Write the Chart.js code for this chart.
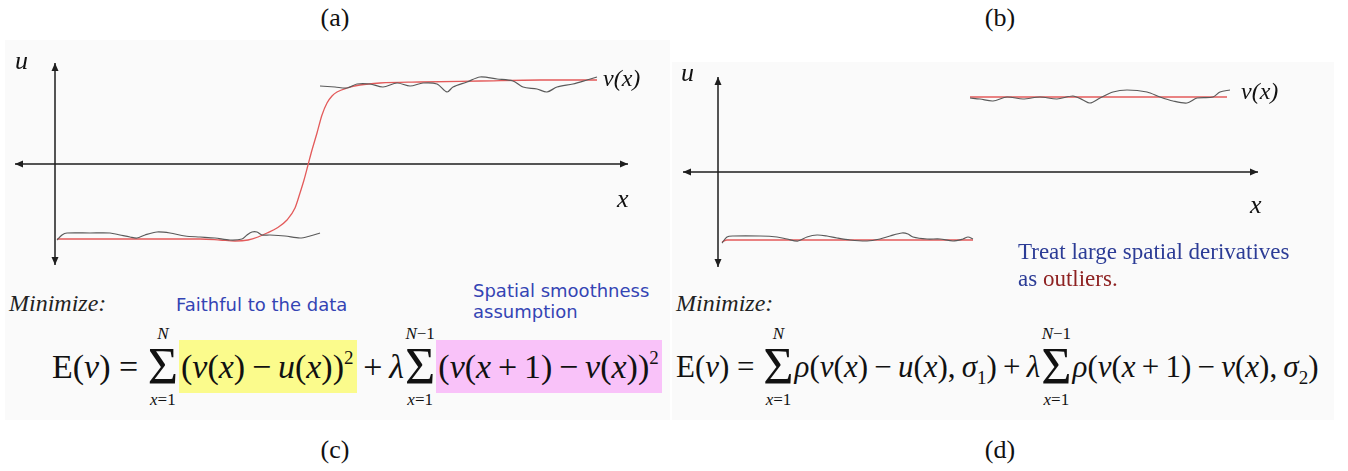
<!DOCTYPE html>
<html lang="en">

<head>
    <meta charset="UTF-8">
    <title>Robust smoothing</title>
    <script src="https://cdn.jsdelivr.net/npm/chart.js"></script>
    <style>
        body { margin: 0; width: 1348px; height: 471px; position: relative; background: #fff; overflow: hidden;
               font-family: "Liberation Serif", "Times New Roman", serif; color: #111; }
        .slide { position: absolute; background: #fafafa; }
        canvas { position: absolute; }
        .t { position: absolute; white-space: nowrap; line-height: 1; }
        .cap { font-size: 26px; transform: translateX(-50%); }
        .it { font-style: italic; }
        .note { font-family: "DejaVu Sans", sans-serif; color: #3444b4; font-size: 18px; }
        .eq { position: absolute; display: flex; align-items: center; white-space: nowrap; line-height: 1.1; }
        .eq i { font-style: italic; }
        .sum { display: inline-flex; flex-direction: column; align-items: center; line-height: 1; margin: 0 1px; }
        .sum .lim { font-size: 17px; }
        .sum .sig { font-size: 52px; line-height: 0.95; }
        .hl { padding: 8px 3px 8px 2px; }
        sup { font-size: 19px; vertical-align: 14px; line-height: 0; }
        sub { font-size: 19px; vertical-align: -7px; line-height: 0; }
    </style>
</head>

<body>
    <div class="slide" style="left:5px;top:40px;width:665px;height:380px"></div>
    <div class="slide" style="left:672px;top:62px;width:662px;height:358px"></div>

    <canvas id="stepChart" width="670" height="240" style="left:0;top:40px"></canvas>
    <canvas id="robustChart" width="678" height="240" style="left:670px;top:40px"></canvas>

    <div class="t cap" style="left:335px;top:5px">(a)</div>
    <div class="t cap" style="left:1000px;top:5px">(b)</div>
    <div class="t cap" style="left:335px;top:437px">(c)</div>
    <div class="t cap" style="left:1000px;top:437px">(d)</div>

    <div class="t it" style="left:15px;top:48px;font-size:26px">u</div>
    <div class="t it" style="left:617px;top:186px;font-size:26px">x</div>
    <div class="t it" style="left:603px;top:66px;font-size:24px">v(x)</div>
    <div class="t it" style="left:681px;top:60px;font-size:26px">u</div>
    <div class="t it" style="left:1250px;top:192px;font-size:26px">x</div>
    <div class="t it" style="left:1241px;top:79px;font-size:24px">v(x)</div>

    <div class="t" style="left:1018px;top:240px;font-size:23px;color:#2c3c96">Treat large spatial derivatives</div>
    <div class="t" style="left:1018px;top:267px;font-size:23px;color:#2c3c96">as <span style="color:#8e2222">outliers.</span></div>

    <div class="t it" style="left:9px;top:291px;font-size:24px;color:#222">Minimize:</div>
    <div class="t note" style="left:176px;top:296px">Faithful to the data</div>
    <div class="t note" style="left:473px;top:282px">Spatial smoothness</div>
    <div class="t note" style="left:473px;top:303px">assumption</div>
    <div class="t it" style="left:676px;top:291px;font-size:24px;color:#222">Minimize:</div>

    <div class="eq" style="left:52px;top:325px;font-size:34px">
        <span>E(<i>v</i>)&nbsp;=&nbsp;</span>
        <span class="sum"><i class="lim">N</i><span class="sig">Σ</span><span class="lim"><i>x</i>=1</span></span>
        <span class="hl" style="background:#fbfb8c">(<i>v</i>(<i>x</i>)&thinsp;−&thinsp;<i>u</i>(<i>x</i>))<sup>2</sup></span>
        <span>&thinsp;+&thinsp;<i>λ</i></span>
        <span class="sum"><span class="lim"><i>N</i>−1</span><span class="sig">Σ</span><span class="lim"><i>x</i>=1</span></span>
        <span class="hl" style="background:#f9c2f9">(<i>v</i>(<i>x</i>&thinsp;+&thinsp;1)&thinsp;−&thinsp;<i>v</i>(<i>x</i>))<sup>2</sup></span>
    </div>

    <div class="eq" style="left:676px;top:325px;font-size:31px">
        <span>E(<i>v</i>)&nbsp;=&nbsp;</span>
        <span class="sum"><i class="lim">N</i><span class="sig">Σ</span><span class="lim"><i>x</i>=1</span></span>
        <span><i>ρ</i>(<i>v</i>(<i>x</i>)&thinsp;−&thinsp;<i>u</i>(<i>x</i>),&thinsp;<i>σ</i><sub>1</sub>)</span>
        <span>&thinsp;+&thinsp;<i>λ</i></span>
        <span class="sum"><span class="lim"><i>N</i>−1</span><span class="sig">Σ</span><span class="lim"><i>x</i>=1</span></span>
        <span><i>ρ</i>(<i>v</i>(<i>x</i>&thinsp;+&thinsp;1)&thinsp;−&thinsp;<i>v</i>(<i>x</i>),&thinsp;<i>σ</i><sub>2</sub>)</span>
    </div>

    <script>
        // (a) noisy signal v(x) with a jump, and the smooth fit u(x)
        const aLowX = [0.2, 0.7, 1.2, 3.5, 5.5, 6.5, 7.5, 8.2, 9.0, 10.2, 11.5, 13.0, 14.5, 16.0, 17.5, 18.7, 19.2, 19.7, 20.2, 20.7, 21.5, 23.0, 24.5, 25.5, 26.5];
        const aLowV = [-7.6, -7.1, -6.9, -6.9, -6.9, -7.1, -7.3, -7.4, -7.1, -6.8, -6.9, -7.2, -7.3, -7.4, -7.6, -7.5, -7.1, -6.8, -6.8, -7.1, -7.1, -7.2, -7.4, -7.2, -6.9];
        const aHighX = [26.5, 28.0, 29.2, 30.2, 31.5, 32.8, 34.2, 35.5, 36.8, 38.2, 39.2, 39.8, 41.2, 42.5, 44.2, 45.8, 46.8, 48.2, 49.2, 50.2, 51.8, 53.2, 54.2];
        const aHighV = [7.8, 7.7, 7.6, 8.0, 8.0, 7.7, 8.1, 7.8, 8.1, 8.0, 7.2, 7.7, 8.2, 8.7, 8.5, 8.3, 7.7, 7.5, 7.2, 7.7, 8.0, 8.4, 8.7];
        const aFitX = [0.2, 4.5, 9.5, 14.5, 16.5, 18.0, 19.3, 20.3, 21.2, 22.2, 23.2, 24.0, 24.5, 24.9, 25.3, 25.7, 26.2, 26.7, 27.2, 27.7, 28.2, 29.2, 30.5, 32.5, 36.5, 42.5, 48.5, 54.2];
        const aFitU = [-7.5, -7.5, -7.5, -7.5, -7.6, -7.7, -7.6, -7.3, -6.9, -6.4, -5.6, -4.4, -2.9, -1.6, -0.1, 1.4, 3.1, 4.9, 6.1, 6.8, 7.2, 7.6, 7.9, 8.1, 8.2, 8.3, 8.4, 8.4];

        // (b) same kind of signal, fit that keeps the discontinuity
        const bLowX = [0.4, 0.9, 1.5, 4.2, 5.9, 6.9, 8.0, 8.9, 9.9, 10.9, 11.9, 13.2, 14.9, 16.2, 17.2, 18.4, 19.0, 19.5, 20.9, 22.2, 23.5, 24.5, 25.0, 25.5];
        const bLowV = [-7.1, -6.5, -6.4, -6.4, -6.5, -6.7, -6.9, -6.5, -6.3, -6.4, -6.6, -6.8, -6.9, -6.7, -6.4, -6.1, -6.2, -6.5, -6.7, -6.7, -6.9, -6.7, -6.5, -6.7];
        const bLowFitX = [0.4, 0.9, 25.5];
        const bLowFitU = [-7.0, -6.8, -6.8];
        const bHighX = [25.2, 26.2, 27.5, 28.9, 30.5, 32.2, 33.9, 35.5, 36.5, 37.2, 38.2, 39.5, 40.9, 42.9, 44.2, 45.5, 46.9, 47.9, 49.5, 50.2, 51.2];
        const bHighV = [7.4, 7.3, 7.1, 7.5, 7.3, 7.5, 7.3, 7.6, 7.2, 6.9, 7.4, 8.0, 8.2, 8.0, 7.5, 7.1, 6.9, 7.4, 7.5, 8.0, 8.2];
        const bHighFitX = [25.2, 50.9];
        const bHighFitU = [7.5, 7.5];

        const NOISY = "#5a5a5a";
        const FIT = "#e35a5a";

        const pts = (xs, ys) => xs.map((x, i) => ({ x: x, y: ys[i] }));

        function noisy(xs, ys) {
            return { data: pts(xs, ys), borderColor: NOISY, borderWidth: 1.2, tension: 0.3, order: 1 };
        }
        function fit(xs, ys) {
            return { data: pts(xs, ys), borderColor: FIT, borderWidth: 1.3, cubicInterpolationMode: "monotone", order: 2 };
        }

        // double-headed axes through the origin
        const arrowAxes = {
            id: "arrowAxes",
            beforeDatasetsDraw(chart, args, opts) {
                const { ctx, scales: { x, y } } = chart;
                const ox = x.getPixelForValue(0), oy = y.getPixelForValue(0);
                const x0 = x.getPixelForValue(opts.xFrom), x1 = x.getPixelForValue(opts.xTo);
                const y0 = y.getPixelForValue(opts.uFrom), y1 = y.getPixelForValue(opts.uTo);
                const head = (px, py, dx, dy) => {
                    ctx.beginPath();
                    ctx.moveTo(px, py);
                    ctx.lineTo(px - dx * 8 - dy * 3.5, py - dy * 8 - dx * 3.5);
                    ctx.lineTo(px - dx * 8 + dy * 3.5, py - dy * 8 + dx * 3.5);
                    ctx.closePath();
                    ctx.fill();
                };
                ctx.save();
                ctx.strokeStyle = "#1e1e1e";
                ctx.fillStyle = "#1e1e1e";
                ctx.lineWidth = 1.5;
                ctx.beginPath();
                ctx.moveTo(x0, oy); ctx.lineTo(x1, oy);
                ctx.moveTo(ox, y0); ctx.lineTo(ox, y1);
                ctx.stroke();
                head(x1, oy, 1, 0); head(x0, oy, -1, 0);
                head(ox, y0, 0, 1); head(ox, y1, 0, -1);
                ctx.restore();
            }
        };

        function makeChart(id, datasets, range, axes) {
            return new Chart(document.getElementById(id), {
                type: "scatter",
                data: { datasets: datasets },
                options: {
                    responsive: false,
                    animation: false,
                    showLine: true,
                    elements: { point: { radius: 0 } },
                    layout: { padding: 0 },
                    scales: {
                        x: { type: "linear", display: false, min: range.xMin, max: range.xMax },
                        y: { type: "linear", display: false, min: range.uMin, max: range.uMax }
                    },
                    plugins: { legend: { display: false }, tooltip: { enabled: false }, arrowAxes: axes }
                },
                plugins: [arrowAxes]
            });
        }

        makeChart("stepChart",
            [noisy(aLowX, aLowV), noisy(aHighX, aHighV), fit(aFitX, aFitU)],
            { xMin: -5.5, xMax: 61.5, uMin: -11.6, uMax: 12.4 },
            { xFrom: -4.0, xTo: 57.3, uFrom: -10.1, uTo: 10.1 });

        makeChart("robustChart",
            [noisy(bLowX, bLowV), noisy(bHighX, bHighV), fit(bLowFitX, bLowFitU), fit(bHighFitX, bHighFitU)],
            { xMin: -4.8, xMax: 63.0, uMin: -10.8, uMax: 13.2 },
            { xFrom: -3.5, xTo: 54.0, uFrom: -9.5, uTo: 9.5 });
    </script>
</body>

</html>
